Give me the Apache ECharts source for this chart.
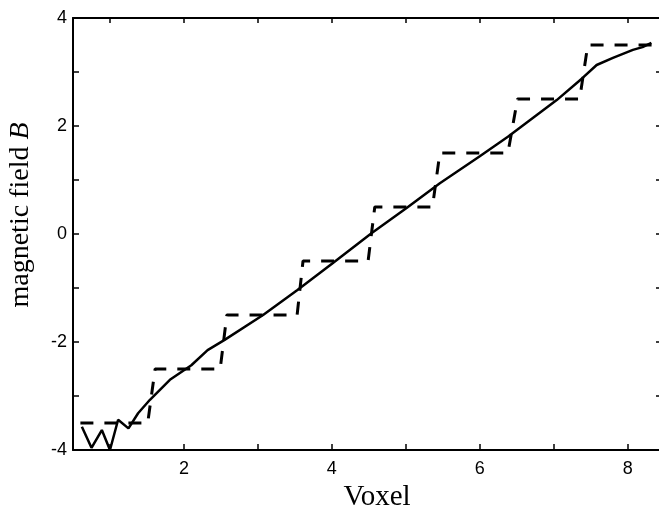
<!DOCTYPE html>
<html>
<head>
<meta charset="utf-8">
<script src="https://cdn.jsdelivr.net/npm/echarts@6/dist/echarts.min.js"></script>
<style>
html, body { margin: 0; padding: 0; background: #fff; }
#chart { width: 659px; height: 512px; }
</style>
</head>
<body>
<div id="chart"></div>
<script>
// staircase (dashed)
var stepX = [0.6, 1.51, 1.61, 2.49, 2.58, 3.53, 3.61, 4.49, 4.58, 5.36, 5.46, 6.38, 6.51, 7.35, 7.46, 8.35];
var stepY = [-3.5, -3.5, -2.5, -2.5, -1.5, -1.5, -0.5, -0.5, 0.5, 0.5, 1.5, 1.5, 2.5, 2.5, 3.5, 3.5];
// reconstructed field (solid)
var fieldX = [0.62, 0.75, 0.89, 1.0, 1.11, 1.25, 1.38, 1.54, 1.81, 2.1, 2.32, 2.55, 3.07, 3.53, 4.01, 4.54, 5.01, 5.46, 6.0, 6.38, 7.04, 7.39, 7.58, 7.8, 8.07, 8.2, 8.32];
var fieldY = [-3.57, -3.96, -3.63, -4.0, -3.44, -3.6, -3.32, -3.07, -2.7, -2.43, -2.15, -1.96, -1.5, -1.04, -0.54, 0.02, 0.48, 0.94, 1.44, 1.8, 2.48, 2.89, 3.13, 3.26, 3.41, 3.46, 3.54];
var xTicks = [1, 2, 3, 4, 5, 6, 7, 8];
var xLabels = [2, 4, 6, 8];

function pairs(xs, ys) {
	var out = [];
	for (var i = 0; i < xs.length; i++) {
		out.push([xs[i], ys[i]]);
	}
	return out;
}

var sans = 'Liberation Sans';
var serif = 'Liberation Serif';
var axisLine = { show: true, onZero: false, lineStyle: { color: '#000', width: 2 } };

var myChart = echarts.init(document.getElementById('chart'));
var option = {
	backgroundColor: '#fff',
	animation: false,
	// keep the plot box fixed, the right edge sits just off the page
	grid: { left: 73, top: 18, width: 588, height: 432, outerBoundsMode: 'none', containLabel: false },
	xAxis: [ {
		type: 'value',
		position: 'bottom',
		min: 0.5,
		max: 8.45,
		name: 'Voxel',
		nameLocation: 'middle',
		nameGap: 33,
		nameTextStyle: { fontFamily: serif, fontSize: 29, color: '#000', padding: [0, 0, 0, 20] },
		axisLine: axisLine,
		axisTick: { inside: true, length: 6, customValues: xTicks, lineStyle: { color: '#000', width: 1.5 } },
		axisLabel: { customValues: xLabels, margin: 10, fontFamily: sans, fontSize: 18, color: '#000' },
		splitLine: { show: false }
	}, {
		type: 'value',
		position: 'top',
		min: 0.5,
		max: 8.45,
		axisLine: axisLine,
		axisTick: { inside: true, length: 5, customValues: xTicks, lineStyle: { color: '#000', width: 1.5 } },
		axisLabel: { show: false },
		splitLine: { show: false }
	} ],
	yAxis: [ {
		type: 'value',
		position: 'left',
		min: -4,
		max: 4,
		interval: 1,
		name: 'magnetic field {i|B}',
		nameLocation: 'middle',
		nameRotate: 90,
		nameGap: 38,
		nameTextStyle: {
			fontFamily: serif, fontSize: 28, color: '#000', padding: [0, 0, 0, 38],
			rich: { i: { fontFamily: serif, fontSize: 28, fontStyle: 'italic', color: '#000' } }
		},
		axisLine: axisLine,
		axisTick: { inside: true, length: 6, lineStyle: { color: '#000', width: 1.5 } },
		axisLabel: {
			margin: 6, fontFamily: sans, fontSize: 18, color: '#000',
			formatter: function(v) { return v % 2 === 0 ? String(v) : ''; }
		},
		splitLine: { show: false }
	}, {
		type: 'value',
		position: 'right',
		min: -4,
		max: 4,
		interval: 1,
		axisLine: axisLine,
		axisTick: { inside: true, length: 5, lineStyle: { color: '#000', width: 1.5 } },
		axisLabel: { show: false },
		splitLine: { show: false }
	} ],
	series: [ {
		type: 'line',
		data: pairs(stepX, stepY),
		showSymbol: false,
		lineStyle: { color: '#000', width: 3, type: [13, 11] }
	}, {
		type: 'line',
		data: pairs(fieldX, fieldY),
		showSymbol: false,
		lineStyle: { color: '#000', width: 2.5 }
	} ]
};
myChart.setOption(option);
</script>
</body>
</html>
